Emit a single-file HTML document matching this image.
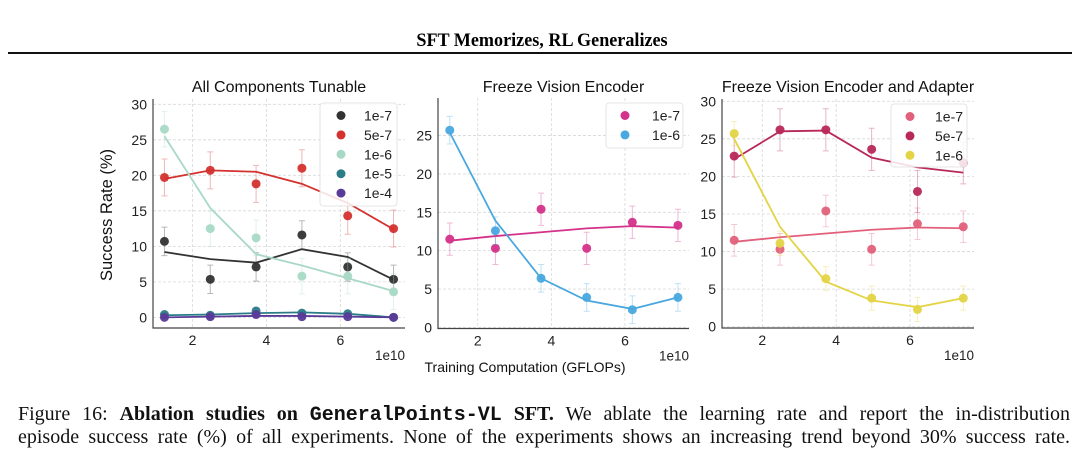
<!DOCTYPE html>
<html><head><meta charset="utf-8">
<style>
body{margin:0;background:#fff;width:1080px;height:457px;overflow:hidden;position:relative}
svg{position:absolute;left:0;top:0}
.cap{position:absolute;left:18px;width:1052px;font-family:"Liberation Serif",serif;font-size:20px;color:#111;text-align:justify;text-align-last:justify;line-height:23px;height:23px;overflow:hidden}
</style></head><body>
<svg id="chart" width="1080" height="457" font-family="Liberation Sans, sans-serif">
<text x="542" y="46" text-anchor="middle" font-family="Liberation Serif, serif" font-weight="bold" font-size="19.5" transform="translate(542 0) scale(0.93 1) translate(-542 0)">SFT Memorizes, RL Generalizes</text>
<rect x="8" y="52" width="1064" height="2" fill="#111"/>
<text x="0" y="0" font-size="16.5" transform="translate(112 215) rotate(-90)" text-anchor="middle" fill="#111">Success Rate (%)</text>
<text x="525" y="372" font-size="14" text-anchor="middle" fill="#111">Training Computation (GFLOPs)</text>
</svg>
<div class="cap" style="top:403px">Figure 16: <b>Ablation studies on <span style="font-family:'Liberation Mono',monospace">GeneralPoints-VL</span> SFT.</b> We ablate the learning rate and report the in-distribution</div>
<div class="cap" style="top:426px">episode success rate (%) of all experiments. None of the experiments shows an increasing trend beyond 30% success rate.</div>
<script>
const xSteps = [1.24, 2.48, 3.72, 4.96, 6.2, 7.44];
// Panel 1
const p1Labels = ["1e-7","5e-7","1e-6","1e-5","1e-4"];
const p1Points = [[10.7,5.35,7.1,11.6,7.1,5.35],[19.7,20.7,18.8,21.0,14.3,12.5],[26.5,12.5,11.2,5.8,5.8,3.6],[0.4,0.3,0.9,0.6,0.5,0.0],[0.0,0.1,0.4,0.1,0.1,0.0]];
const p1Lines = [[9.2,8.2,7.7,9.6,8.5,5.3],[19.5,20.7,20.5,18.8,16.1,12.4],[25.5,15.4,8.9,7.3,5.5,3.7],[0.3,0.4,0.6,0.7,0.5,0.0],[0.0,0.1,0.2,0.2,0.1,0.0]];
const p1Err = [2.0,2.6,2.5,0.3,0.2];
const p1Colors = ["#333333","#d3322f","#a9d9c6","#2b7c88","#5a3a98"];
// Panel 2
const p2Labels = ["1e-7","1e-6"];
const p2Points = [[11.5,10.3,15.4,10.3,13.7,13.3],[25.7,12.6,6.4,3.9,2.3,3.9]];
const p2Lines = [[11.3,11.9,12.4,12.9,13.2,13.0],[25.4,13.9,6.4,3.5,2.4,3.9]];
const p2Err = [2.1,1.8];
const p2Colors = ["#d3318a","#49a8df"];
// Panel 3
const p3Labels = ["1e-7","5e-7","1e-6"];
const p3Points = [[11.5,10.3,15.4,10.3,13.7,13.3],[22.7,26.2,26.2,23.6,18.0,21.8],[25.7,11.1,6.4,3.8,2.3,3.8]];
const p3Lines = [[11.3,11.9,12.4,12.9,13.2,13.1],[22.3,26.0,26.1,22.5,21.2,20.5],[25.0,13.3,6.0,3.5,2.6,3.8]];
const p3Err = [2.1,2.8,1.6];
const p3Colors = ["#e2607a","#b8285a","#e3d444"];
const xTicks = [2,4,6];
const yTicks1 = [0,5,10,15,20,25,30];
const yTicks2 = [0,5,10,15,20,25];

const svg = document.getElementById('chart');
const NS = 'http://www.w3.org/2000/svg';
function mk(tag, attrs, parent){const e=document.createElementNS(NS,tag);for(const k in attrs)e.setAttribute(k,attrs[k]);(parent||svg).appendChild(e);return e;}

function panel(cfg){
  const g = mk('g',{});
  
  
  const X = v => cfg.x0 + (v - cfg.xmin)/(cfg.xmax - cfg.xmin)*(cfg.x1 - cfg.x0);
  const Y = v => cfg.y0 - (v - cfg.ymin)/(cfg.ymax - cfg.ymin)*(cfg.y0 - cfg.y1);
  xTicks.forEach(t=>{
    const l = mk('line',{x1:X(t),x2:X(t),y1:cfg.y1,y2:cfg.y0,stroke:'#d8d8d8','stroke-width':0.8,'stroke-dasharray':'3,2'},g);
    
    
    const tx = mk('text',{x:X(t),y:cfg.y0+17,'text-anchor':'middle','font-size':14,fill:'#222'},g);
    tx.textContent = t;
    
    
  });
  cfg.yTicks.forEach(t=>{
    const l = mk('line',{x1:cfg.x0,x2:cfg.x1,y1:Y(t),y2:Y(t),stroke:'#d8d8d8','stroke-width':0.8,'stroke-dasharray':'3,2'},g);
    
    
    const tx = mk('text',{x:cfg.x0-6,y:Y(t)+5,'text-anchor':'end','font-size':14,fill:'#222'},g);
    tx.textContent = t;
    
    
  });
  const ax = mk('path',{d:`M${cfg.x0},${cfg.y1} V${cfg.y0} H${cfg.x1}`,fill:'none',stroke:'#444','stroke-width':1.2},g);
  
  
  const ti = mk('text',{x:(cfg.x0+cfg.x1)/2,y:cfg.titleY,'text-anchor':'middle','font-size':16,fill:'#111'},g);
  ti.textContent = cfg.title;
  
  
  const ex = mk('text',{x:cfg.x1,y:cfg.y0+32,'text-anchor':'end','font-size':13.5,fill:'#222'},g);
  ex.textContent = '1e10';
  
  
  cfg.points.forEach((pts,s)=>{
    const c = cfg.colors[s];
    const sg = mk('g',{},g);
    
    
    pts.forEach((v,i)=>{
      const e = cfg.err[s], x = X(xSteps[i]);
      const eb = mk('path',{d:`M${x},${Y(v-e)}V${Y(v+e)}M${x-3},${Y(v-e)}H${x+3}M${x-3},${Y(v+e)}H${x+3}`,stroke:c,'stroke-opacity':0.35,'stroke-width':1,fill:'none'},sg);
      
      
    });
    const ln = mk('polyline',{points:cfg.lines[s].map((v,i)=>X(xSteps[i])+','+Y(v)).join(' '),fill:'none',stroke:c,'stroke-width':1.8},sg);
    
    
    pts.forEach((v,i)=>{
      const p = mk('circle',{cx:X(xSteps[i]),cy:Y(v),r:4.5,fill:c,'fill-opacity':0.95},sg);
      
      
    });
  });
  const L = cfg.legend;
  const lg = mk('g',{},g);
  
  
  mk('rect',{x:L.x,y:L.y,width:L.w,height:L.h,rx:3,fill:'#fff','fill-opacity':0.85,stroke:'#ddd','stroke-width':0.8},lg);
  cfg.labels.forEach((lab,s)=>{
    const cy = L.y + 12.5 + s*19.4;
    const m = mk('circle',{cx:L.mx,cy:cy,r:4.5,fill:cfg.colors[s]},lg);
    
    
    const t = mk('text',{x:L.tx,y:cy+5,'font-size':14,fill:'#222'},lg);
    t.textContent = lab;
    
    
  });
}
panel({name:'panel-all-components',title:'All Components Tunable',titleY:92,x0:153,x1:405,y0:328,y1:99,xmin:0.93,xmax:7.75,ymin:-1.5,ymax:30.75,yTicks:yTicks1,labels:p1Labels,points:p1Points,lines:p1Lines,err:p1Err,colors:p1Colors,legend:{x:320,y:103,w:77,h:103,mx:341,tx:364}});
panel({name:'panel-freeze-vision',title:'Freeze Vision Encoder',titleY:92,x0:438,x1:689,y0:328.5,y1:98,xmin:0.92,xmax:7.74,ymin:-0.15,ymax:29.9,yTicks:yTicks2,labels:p2Labels,points:p2Points,lines:p2Lines,err:p2Err,colors:p2Colors,legend:{x:606,y:103,w:77,h:45,mx:625,tx:652}});
panel({name:'panel-freeze-vision-adapter',title:'Freeze Vision Encoder and Adapter',titleY:92,x0:722,x1:974,y0:328,y1:99,xmin:0.91,xmax:7.73,ymin:-0.17,ymax:30.3,yTicks:yTicks1,labels:p3Labels,points:p3Points,lines:p3Lines,err:p3Err,colors:p3Colors,legend:{x:891,y:104,w:76,h:63,mx:910,tx:935}});
</script>
</body></html>
